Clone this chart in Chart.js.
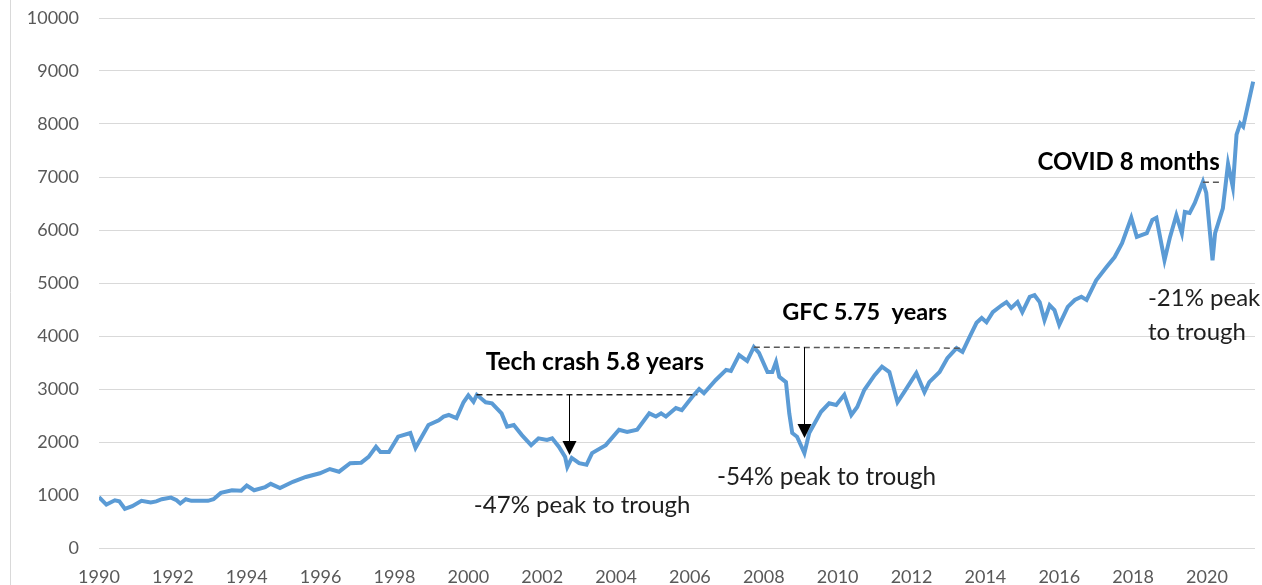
<!DOCTYPE html>
<html>
<head>
<meta charset="utf-8">
<script src="https://cdn.jsdelivr.net/npm/chart.js@4.4.1/dist/chart.umd.min.js"></script>
<style>
  html, body { margin: 0; padding: 0; background: #fff; }
  #wrap { position: relative; width: 1262px; height: 585px; overflow: hidden; }
</style>
</head>
<body>
<div id="wrap"><canvas id="chart"></canvas></div>
<script>
const dates = [
  1990.00, 1990.20, 1990.43, 1990.55, 1990.70, 1990.90, 1991.15, 1991.40, 1991.55, 1991.70,
  1991.95, 1992.10, 1992.20, 1992.35, 1992.50, 1992.95, 1993.10, 1993.30, 1993.60, 1993.85,
  1994.00, 1994.20, 1994.50, 1994.65, 1994.90, 1995.25, 1995.60, 1995.98, 1996.25, 1996.50,
  1996.80, 1997.10, 1997.30, 1997.50, 1997.62, 1997.85, 1998.10, 1998.43, 1998.57, 1998.92,
  1999.20, 1999.33, 1999.47, 1999.68, 1999.87, 2000.00, 2000.14, 2000.23, 2000.47, 2000.64,
  2000.90, 2001.05, 2001.23, 2001.45, 2001.70, 2001.90, 2002.13, 2002.27, 2002.45, 2002.62,
  2002.68, 2002.80, 2003.00, 2003.20, 2003.35, 2003.72, 2004.08, 2004.30, 2004.57, 2004.90,
  2005.08, 2005.22, 2005.35, 2005.62, 2005.78, 2006.06, 2006.25, 2006.38, 2006.70, 2006.98,
  2007.11, 2007.33, 2007.55, 2007.73, 2007.87, 2008.10, 2008.23, 2008.33, 2008.42, 2008.60,
  2008.69, 2008.77, 2008.90, 2009.10, 2009.23, 2009.55, 2009.77, 2009.96, 2010.18, 2010.37,
  2010.53, 2010.72, 2011.00, 2011.20, 2011.40, 2011.62, 2011.80, 2012.13, 2012.35, 2012.48,
  2012.76, 2012.97, 2013.22, 2013.38, 2013.57, 2013.76, 2013.90, 2014.03, 2014.20, 2014.44,
  2014.57, 2014.70, 2014.87, 2015.00, 2015.20, 2015.33, 2015.47, 2015.60, 2015.74, 2015.87,
  2016.00, 2016.23, 2016.42, 2016.60, 2016.74, 2017.00, 2017.28, 2017.50, 2017.70, 2017.95,
  2018.10, 2018.37, 2018.52, 2018.63, 2018.85, 2019.00, 2019.17, 2019.32, 2019.40, 2019.53,
  2019.67, 2019.89, 2019.98, 2020.15, 2020.22, 2020.43, 2020.57, 2020.70, 2020.80, 2020.90,
  2020.98, 2021.25
];
const values = [
  960, 820, 900, 880, 740, 790, 890, 860, 880, 920,
  950, 900, 840, 920, 890, 890, 920, 1040, 1090, 1080,
  1180, 1090, 1150, 1210, 1130, 1250, 1340, 1410, 1490, 1440,
  1600, 1610, 1720, 1910, 1810, 1810, 2100, 2170, 1890, 2320,
  2410, 2480, 2510, 2450, 2750, 2880, 2760, 2890, 2750, 2730,
  2540, 2290, 2320, 2130, 1940, 2070, 2040, 2070, 1910, 1720,
  1530, 1700, 1600, 1570, 1790, 1940, 2230, 2190, 2230, 2540,
  2480, 2540, 2480, 2640, 2600, 2850, 3000, 2920, 3170, 3360,
  3340, 3640, 3530, 3790, 3680, 3320, 3320, 3510, 3230, 3130,
  2540, 2170, 2100, 1790, 2170, 2570, 2730, 2700, 2890, 2510,
  2660, 2980, 3260, 3420, 3320, 2750, 2940, 3300, 2940, 3130,
  3320, 3580, 3770, 3700, 3980, 4250, 4340, 4260, 4450, 4580,
  4640, 4530, 4640, 4450, 4740, 4770, 4640, 4300, 4580, 4490,
  4210, 4550, 4680, 4740, 4680, 5050, 5300, 5490, 5750, 6230,
  5870, 5940, 6190, 6230, 5430, 5870, 6280, 5940, 6340, 6320,
  6510, 6910, 6700, 5430, 5940, 6410, 7250, 6810, 7800, 8010,
  7950, 8800
];

const yearTicks = [1990, 1992, 1994, 1996, 1998, 2000, 2002, 2004, 2006, 2008,
                   2010, 2012, 2014, 2016, 2018, 2020];
const valueTicks = [0, 1000, 2000, 3000, 4000, 5000, 6000, 7000, 8000, 9000, 10000];

const FONT = 'Lato, "Open Sans", sans-serif';

// drawdown notes, placed in data units
const notes = {
  dashes: [
    { from: [2000.22, 2890], to: [2006.2, 2890], color: '#222' },
    { from: [2007.73, 3790], to: [2013.38, 3770], color: '#595959' },
    { from: [2019.89, 6900], to: [2020.42, 6900], color: '#595959' }
  ],
  arrows: [
    { at: 2002.72, top: 2890, tip: 1755 },
    { at: 2009.10, top: 3790, tip: 2075 }
  ],
  labels: [
    { text: 'Tech crash 5.8 years', at: [2000.47, 3510], bold: true, size: 24.5 },
    { text: '-47% peak to trough', at: [2000.15, 810], size: 24 },
    { text: 'GFC 5.75  years', at: [2008.5, 4450], bold: true, size: 23.5 },
    { text: '-54% peak to trough', at: [2006.73, 1340], size: 24.3 },
    { text: 'COVID 8 months', at: [2015.41, 7280], bold: true, size: 24 },
    { text: '-21% peak', at: [2018.4, 4720], size: 24 },
    { text: 'to trough', at: [2018.4, 4075], size: 24 }
  ]
};

const notesPlugin = {
  id: 'notes',
  beforeDraw(chart) {
    const ctx = chart.ctx;
    ctx.save();
    ctx.strokeStyle = '#d9d9d9';
    ctx.lineWidth = 1;
    ctx.beginPath();
    ctx.moveTo(10.5, 0);
    ctx.lineTo(10.5, chart.height);
    ctx.stroke();
    ctx.restore();
  },
  afterDatasetsDraw(chart) {
    const { ctx, scales: { x, y } } = chart;
    ctx.save();

    notes.dashes.forEach(d => {
      ctx.strokeStyle = d.color;
      ctx.lineWidth = 1.5;
      ctx.setLineDash([6, 4]);
      ctx.beginPath();
      ctx.moveTo(x.getPixelForValue(d.from[0]), y.getPixelForValue(d.from[1]));
      ctx.lineTo(x.getPixelForValue(d.to[0]), y.getPixelForValue(d.to[1]));
      ctx.stroke();
    });
    ctx.setLineDash([]);

    notes.arrows.forEach(a => {
      const px = Math.round(x.getPixelForValue(a.at)) + 0.5;
      const top = y.getPixelForValue(a.top);
      const tip = y.getPixelForValue(a.tip);
      ctx.strokeStyle = '#000';
      ctx.lineWidth = 1;
      ctx.beginPath();
      ctx.moveTo(px, top);
      ctx.lineTo(px, tip - 12);
      ctx.stroke();
      ctx.fillStyle = '#000';
      ctx.beginPath();
      ctx.moveTo(px - 7, tip - 14);
      ctx.lineTo(px + 7, tip - 14);
      ctx.lineTo(px, tip);
      ctx.closePath();
      ctx.fill();
    });

    ctx.textAlign = 'left';
    ctx.textBaseline = 'middle';
    notes.labels.forEach(l => {
      ctx.font = (l.bold ? 'bold ' : '') + l.size + 'px ' + FONT;
      ctx.fillStyle = l.bold ? '#000' : '#1f1f1f';
      ctx.fillText(l.text, x.getPixelForValue(l.at[0]), y.getPixelForValue(l.at[1]));
    });
    ctx.restore();
  }
};

new Chart(document.getElementById('chart'), {
  type: 'line',
  data: {
    datasets: [{
      data: dates.map((d, i) => ({ x: d, y: values[i] })),
      borderColor: '#5b9bd5',
      borderWidth: 4,
      pointRadius: 0,
      tension: 0,
      fill: false
    }]
  },
  options: {
    responsive: true,
    maintainAspectRatio: false,
    animation: false,
    layout: { padding: { top: 18, right: 7, left: 0, bottom: 0 } },
    plugins: { legend: { display: false }, tooltip: { enabled: false } },
    scales: {
      x: {
        type: 'linear',
        min: 1990,
        max: 2021.3,
        afterFit: s => { s.height = 37; },
        afterBuildTicks: s => { s.ticks = yearTicks.map(v => ({ value: v })); },
        grid: { display: false },
        border: { display: false },
        ticks: {
          padding: 10,
          color: '#595959',
          font: { family: FONT, size: 18 },
          maxRotation: 0,
          autoSkip: false,
          callback: v => String(v)
        }
      },
      y: {
        min: 0,
        max: 10000,
        afterFit: s => {
          s.width = 99;
          // tick padding would otherwise push the plot top down
          s.paddingTop = 0;
          s.paddingBottom = 0;
        },
        afterBuildTicks: s => { s.ticks = valueTicks.map(v => ({ value: v })); },
        grid: { color: '#d9d9d9', lineWidth: 1, drawTicks: false },
        border: { display: false },
        ticks: {
          padding: 20,
          color: '#595959',
          font: { family: FONT, size: 18 },
          callback: v => String(v)
        }
      }
    }
  },
  plugins: [notesPlugin]
});
</script>
</body>
</html>
